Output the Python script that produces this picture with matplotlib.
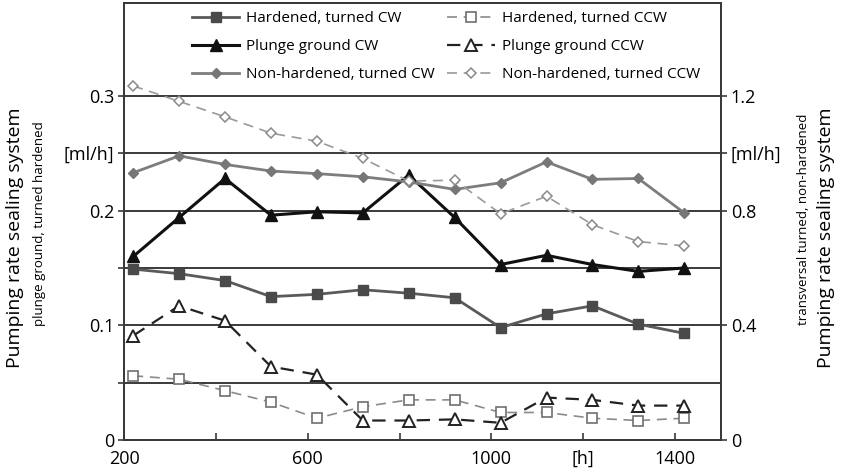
import matplotlib
matplotlib.use("Agg")
import matplotlib.pyplot as plt

plt.rcParams["font.family"] = ["Open Sans", "DejaVu Sans"]

# operating hours
hours = [220, 320, 420, 520, 620, 720, 820, 920, 1020, 1120, 1220, 1320, 1420]

# left axis series [ml/h]
hardened_cw = [0.149, 0.145, 0.139, 0.125, 0.127, 0.131, 0.128, 0.124, 0.098, 0.110, 0.117, 0.101, 0.093]
hardened_ccw = [0.056, 0.053, 0.043, 0.033, 0.019, 0.029, 0.035, 0.035, 0.024, 0.024, 0.019, 0.017, 0.019]
plunge_cw = [0.160, 0.194, 0.228, 0.196, 0.199, 0.198, 0.231, 0.194, 0.153, 0.161, 0.153, 0.147, 0.150]
plunge_ccw = [0.091, 0.117, 0.104, 0.064, 0.057, 0.017, 0.017, 0.018, 0.015, 0.037, 0.035, 0.030, 0.030]

# right axis series [ml/h]
nonhard_cw = [0.932, 0.991, 0.961, 0.938, 0.929, 0.918, 0.900, 0.874, 0.897, 0.970, 0.909, 0.912, 0.792]
nonhard_ccw = [1.235, 1.181, 1.127, 1.070, 1.042, 0.982, 0.903, 0.906, 0.789, 0.850, 0.751, 0.692, 0.677]

left_ticks = [0, 0.05, 0.1, 0.15, 0.2, 0.25, 0.3]
left_labels = ["0", "", "0.1", "", "0.2", "[ml/h]", "0.3"]
right_ticks = [0, 0.4, 0.8, 1.0, 1.2]
right_labels = ["0", "0.4", "0.8", "[ml/h]", "1.2"]
x_ticks = [200, 400, 600, 800, 1000, 1200, 1400]
x_labels = ["200", "", "600", "", "1000", "[h]", "1400"]

fig = plt.figure(figsize=(8.42, 4.76), dpi=100)
ax = fig.add_axes([0.1473, 0.0756, 0.7090, 0.9181])
ax2 = ax.twinx()

ymax = 0.381
ax.set_xlim(200, 1500)
ax.set_ylim(0, ymax)
ax2.set_ylim(0, ymax * 4)

grid_c = "#3a3a3a"
for v in left_ticks[1:]:
    ax.axhline(v, color=grid_c, lw=1.4, zorder=1)

h1, = ax.plot(hours, hardened_cw, color="#5a5a5a", lw=2, marker="s", ms=7,
              mfc="#4a4a4a", mec="#4a4a4a", label="Hardened, turned CW", zorder=3)
h2, = ax.plot(hours, plunge_cw, color="#111111", lw=2.2, marker="^", ms=8,
              mfc="#111111", mec="#111111", label="Plunge ground CW", zorder=3)
h4, = ax.plot(hours, hardened_ccw, color="#8a8a8a", lw=1.2, ls=(0, (6, 4)), marker="s", ms=7,
              mfc="white", mec="#707070", mew=1.2, label="Hardened, turned CCW", zorder=3)
h5, = ax.plot(hours, plunge_ccw, color="#222222", lw=1.6, ls=(0, (6, 4)), marker="^", ms=8,
              mfc="white", mec="#222222", mew=1.4, label="Plunge ground CCW", zorder=3)
h3, = ax2.plot(hours, nonhard_cw, color="#7d7d7d", lw=2, marker="D", ms=5.5,
               mfc="#777777", mec="#777777", label="Non-hardened, turned CW", zorder=3)
h6, = ax2.plot(hours, nonhard_ccw, color="#9a9a9a", lw=1.2, ls=(0, (6, 4)), marker="D", ms=5.5,
               mfc="white", mec="#8a8a8a", mew=1.1, label="Non-hardened, turned CCW", zorder=3)

ax.set_xticks(x_ticks)
ax.set_xticklabels(x_labels)
ax.set_yticks(left_ticks)
ax.set_yticklabels(left_labels)
ax2.set_yticks(right_ticks)
ax2.set_yticklabels(right_labels)

ax.tick_params(axis="x", direction="in", length=5, width=1.2, color=grid_c,
               labelsize=13, pad=7)
ax.tick_params(axis="y", direction="out", length=4, width=1.2, color=grid_c,
               labelsize=13, pad=3)
ax2.tick_params(axis="y", direction="out", length=4, width=1.2, color=grid_c,
                labelsize=13, pad=3)
for a in (ax, ax2):
    for s in a.spines.values():
        s.set_color(grid_c)
        s.set_linewidth(1.4)

fig.text(0.018, 0.50, "Pumping rate sealing system", rotation=90, fontsize=14,
         ha="center", va="center")
fig.text(0.047, 0.53, "plunge ground, turned hardened", rotation=90, fontsize=9.5,
         ha="center", va="center")
fig.text(0.954, 0.54, "transversal turned, non-hardened", rotation=90, fontsize=9.5,
         ha="center", va="center")
fig.text(0.981, 0.50, "Pumping rate sealing system", rotation=90, fontsize=14,
         ha="center", va="center")

leg = ax2.legend(handles=[h1, h2, h3, h4, h5, h6], ncol=2, loc="upper left",
                 bbox_to_anchor=(0.1, 1.0), frameon=False, fontsize=11,
                 handlelength=3.1, handletextpad=0.45, columnspacing=0.8,
                 labelspacing=0.85, borderaxespad=0.15)

fig.savefig("out.png", dpi=100)
